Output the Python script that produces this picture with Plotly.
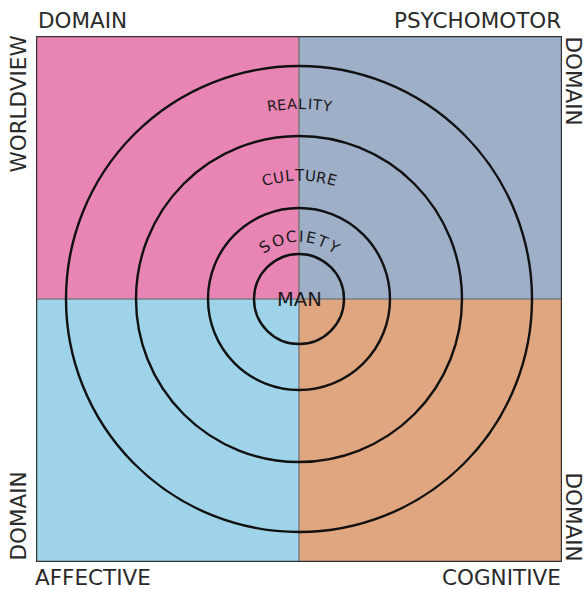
import math
import plotly.graph_objects as go

# ---- data ----
quadrant_names = ["WORLDVIEW", "PSYCHOMOTOR", "AFFECTIVE", "COGNITIVE"]
quadrant_colors = ["#E985B5", "#9EAFC8", "#9ED3E9", "#E0A67F"]
ring_labels = ["MAN", "SOCIETY", "CULTURE", "REALITY"]
ring_radii = [45, 91, 163, 233]          # circle radii (square half-size = 263)
label_radii = [0, 62, 123, 195]          # radius where each label sits
half = 263

W, H = 585, 589
fig = go.Figure()

quad_signs = [(-1, 0, 0, 1), (0, 1, 0, 1), (-1, 0, -1, 0), (0, 1, -1, 0)]
shapes = []
for (sx0, sx1, sy0, sy1), col in zip(quad_signs, quadrant_colors):
    shapes.append(dict(type="rect", xref="x", yref="y",
                       x0=sx0 * half, x1=sx1 * half, y0=sy0 * half, y1=sy1 * half,
                       fillcolor=col, line=dict(width=0), layer="below"))
shapes.append(dict(type="line", x0=0, x1=0, y0=-half, y1=half,
                   line=dict(color="#7d7d7d", width=1.6)))
shapes.append(dict(type="line", x0=-half, x1=half, y0=0, y1=0,
                   line=dict(color="#7d7d7d", width=1.6)))
for r in ring_radii:
    shapes.append(dict(type="circle", x0=-r, x1=r, y0=-r, y1=r,
                       line=dict(color="#111111", width=2.4)))
shapes.append(dict(type="rect", x0=-half, x1=half, y0=-half, y1=half,
                   line=dict(color="#333333", width=2.4)))

font_family = "DejaVu Sans"
txt_col = "#2a2a2a"

def px(d):  # data units -> paper fraction
    return (d + half) / (2 * half)

ann = []
ann.append(dict(x=px(-half + 1), y=px(half + 2), text="DOMAIN", xanchor="left", yanchor="bottom"))
ann.append(dict(x=px(half), y=px(half + 2), text=quadrant_names[1], xanchor="right", yanchor="bottom"))
ann.append(dict(x=px(-half - 18), y=px(half + 1), text=quadrant_names[0], xanchor="center", yanchor="top", textangle=-90))
ann.append(dict(x=px(half + 11), y=px(half + 1), text="DOMAIN", xanchor="center", yanchor="top", textangle=90))
ann.append(dict(x=px(-half - 18), y=px(-half), text="DOMAIN", xanchor="center", yanchor="bottom", textangle=-90))
ann.append(dict(x=px(half + 11), y=px(-half), text="DOMAIN", xanchor="center", yanchor="bottom", textangle=90))
ann.append(dict(x=px(-half - 2), y=px(-half - 2), text=quadrant_names[2], xanchor="left", yanchor="top"))
ann.append(dict(x=px(half), y=px(-half - 2), text=quadrant_names[3], xanchor="right", yanchor="top"))
for a in ann:
    a.update(xref="paper", yref="paper", showarrow=False,
             font=dict(family=font_family, size=21.5, color=txt_col),
             borderpad=0)

ann.append(dict(x=0, y=0, text=ring_labels[0], xref="x", yref="y",
                showarrow=False, font=dict(family=font_family, size=19.5, color="#1a1a1a"),
                xanchor="center", yanchor="middle"))

def cw(ch, size):
    narrow = {"I": 0.36, "L": 0.6, "T": 0.64, "Y": 0.64, "R": 0.7, "E": 0.64,
              "A": 0.72, "C": 0.74, "U": 0.76, "S": 0.68, "O": 0.82}
    return narrow.get(ch, 0.7) * size

ring_font = [19.5, 15.5, 15, 14.5]
ring_spacing = [1, 1.2, 1.05, 1.05]
for lbl, rr, fs, sp in zip(ring_labels[1:], label_radii[1:], ring_font[1:], ring_spacing[1:]):
    widths = [cw(c, fs) * sp for c in lbl]
    total = sum(widths)
    span = total / rr
    theta = math.pi / 2 + span / 2
    for c, w in zip(lbl, widths):
        th = theta - (w / 2) / rr
        ann.append(dict(x=rr * math.cos(th), y=rr * math.sin(th), text=c,
                        xref="x", yref="y", showarrow=False,
                        textangle=90 - math.degrees(th),
                        font=dict(family=font_family, size=fs, color="#1a1a1a"),
                        xanchor="center", yanchor="middle"))
        theta -= w / rr

fig.update_layout(
    width=W, height=H,
    margin=dict(l=36, r=W - 36 - 2 * half, t=36, b=H - 36 - 2 * half),
    paper_bgcolor="white", plot_bgcolor="white",
    xaxis=dict(range=[-half, half], visible=False, fixedrange=True),
    yaxis=dict(range=[-half, half], visible=False, fixedrange=True),
    shapes=shapes, annotations=ann, showlegend=False,
)
fig.write_html("out.html", config={"displayModeBar": False},
               post_script="document.body.style.margin='0';document.body.style.overflow='hidden';")
